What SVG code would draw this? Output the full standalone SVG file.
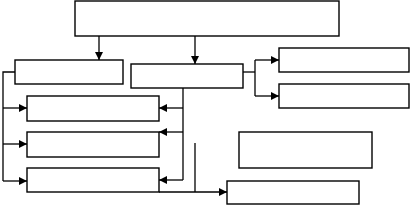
<svg xmlns="http://www.w3.org/2000/svg" width="411" height="205" viewBox="0 0 411 205">
<style>
.box{fill:#fff;stroke:#000;stroke-width:1.4}
.ln{fill:none;stroke:#000;stroke-width:1.3}
.ar{fill:none;stroke:#000;stroke-width:1.3;marker-end:url(#ah)}
</style>
<defs>
<marker id="ah" markerUnits="userSpaceOnUse" markerWidth="9" markerHeight="8" refX="8" refY="4" orient="auto">
<path d="M0,0 L8,4 L0,8 Z" fill="#000"/>
</marker>
</defs>
<rect width="411" height="205" fill="#fff"/>
<g id="connectors">
<line class="ar" x1="99" y1="36" x2="99" y2="60"/>
<line class="ar" x1="195" y1="36" x2="195" y2="64"/>
<polyline class="ln" points="243,72 255,72"/>
<polyline class="ln" points="255,60 255,96"/>
<line class="ar" x1="255" y1="60" x2="279" y2="60"/>
<line class="ar" x1="255" y1="96" x2="279" y2="96"/>
<polyline class="ln" points="15,72 3,72 3,181"/>
<line class="ar" x1="3" y1="108" x2="27" y2="108"/>
<line class="ar" x1="3" y1="144" x2="27" y2="144"/>
<line class="ar" x1="3" y1="181" x2="27" y2="181"/>
<polyline class="ln" points="183,88 183,180"/>
<line class="ar" x1="183" y1="108" x2="159" y2="108"/>
<line class="ar" x1="183" y1="132" x2="159" y2="132"/>
<line class="ar" x1="183" y1="180" x2="159" y2="180"/>
<line class="ln" x1="195" y1="143" x2="195" y2="192"/>
<line class="ar" x1="159" y1="192" x2="227" y2="192"/>
</g>
<g id="top"><rect class="box" x="75" y="1" width="264" height="35"/></g>
<g id="left1"><rect class="box" x="15" y="60" width="108" height="24"/></g>
<g id="mid"><rect class="box" x="131" y="64" width="112" height="24"/></g>
<g id="right1"><rect class="box" x="279" y="48" width="130" height="24"/></g>
<g id="right2"><rect class="box" x="279" y="84" width="130" height="24"/></g>
<g id="row1"><rect class="box" x="27" y="96" width="132" height="25"/></g>
<g id="row2"><rect class="box" x="27" y="132" width="132" height="25"/></g>
<g id="row3"><rect class="box" x="27" y="168" width="132" height="24"/></g>
<g id="midright"><rect class="box" x="239" y="132" width="133" height="36"/></g>
<g id="bottomright"><rect class="box" x="227" y="181" width="132" height="23"/></g>
</svg>
